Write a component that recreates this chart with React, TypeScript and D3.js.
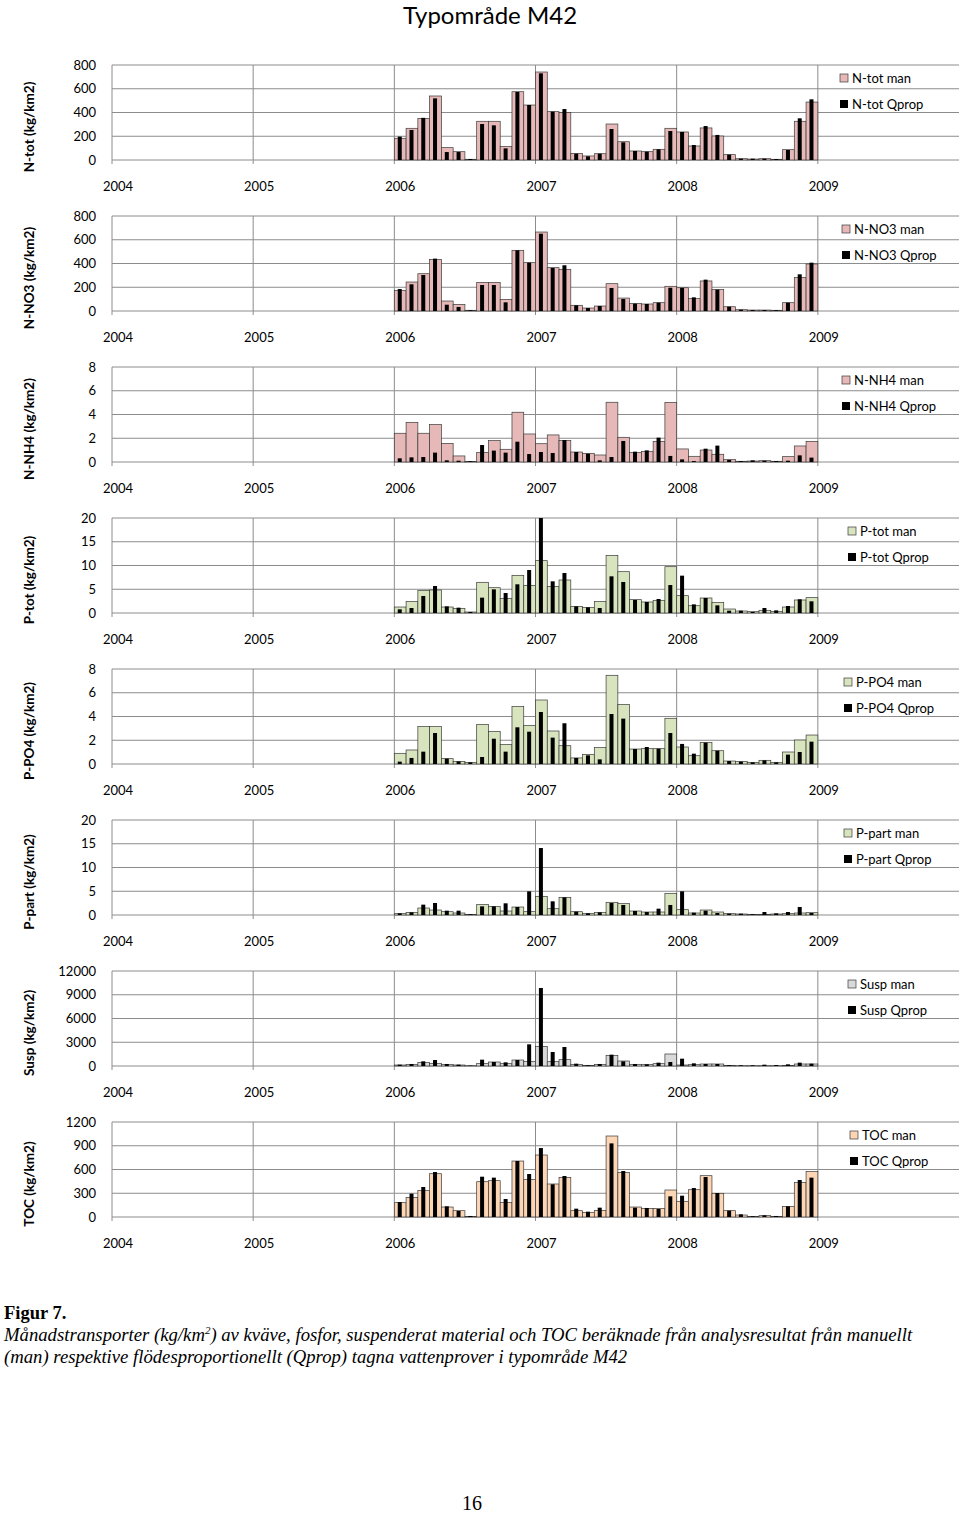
import React from "react";
import * as d3 from "d3";

// Months: Jan 2006 .. Dec 2008 (36 monthly values)
const months: string[] = Array.from({ length: 36 }, (_, i) => `${2006 + Math.floor(i / 12)}-${String((i % 12) + 1).padStart(2, "0")}`);
const years = [2004, 2005, 2006, 2007, 2008, 2009];

const ntotMan = [183, 267, 350, 539, 104, 70, 6, 326, 326, 115, 575, 463, 741, 407, 399, 56, 34, 53, 303, 154, 76, 70, 90, 267, 236, 118, 270, 202, 45, 11, 8, 11, 6, 87, 326, 488];
const ntotQ = [197, 253, 355, 519, 67, 67, 8, 303, 292, 98, 573, 463, 730, 407, 429, 53, 31, 53, 261, 149, 76, 70, 90, 244, 236, 126, 286, 211, 45, 11, 11, 11, 8, 84, 351, 511];
const no3Man = [174, 244, 314, 435, 84, 56, 6, 241, 241, 98, 511, 407, 665, 365, 351, 48, 25, 42, 230, 109, 62, 59, 70, 208, 196, 104, 253, 180, 36, 11, 8, 8, 6, 70, 283, 396];
const no3Q = [185, 225, 303, 441, 53, 34, 6, 219, 219, 73, 511, 407, 651, 362, 385, 48, 25, 42, 194, 101, 62, 59, 70, 196, 194, 115, 264, 180, 36, 11, 8, 8, 6, 70, 309, 407];
const nh4Man = [2.42, 3.34, 2.42, 3.15, 1.57, 0.51, 0.03, 0.79, 1.8, 1.07, 4.19, 2.36, 1.54, 2.28, 1.8, 0.84, 0.73, 0.59, 5.03, 2.08, 0.79, 0.9, 1.74, 5.0, 1.1, 0.48, 1.01, 0.65, 0.2, 0.06, 0.08, 0.11, 0.06, 0.45, 1.35, 1.74];
const nh4Q = [0.31, 0.39, 0.42, 0.79, 0.14, 0.11, 0.06, 1.43, 0.96, 0.79, 1.71, 0.67, 0.84, 0.76, 1.85, 0.84, 0.7, 0.14, 0.42, 1.77, 0.87, 0.98, 2.05, 0.51, 0.22, 0.08, 1.12, 1.38, 0.17, 0.08, 0.14, 0.11, 0.08, 0.11, 0.56, 0.37];
const ptotMan = [1.26, 2.39, 4.77, 4.84, 1.26, 0.98, 0.21, 6.46, 5.33, 3.09, 7.93, 5.82, 11.02, 5.61, 6.95, 1.4, 1.19, 2.39, 12.14, 8.7, 2.81, 2.32, 2.67, 9.75, 3.65, 1.54, 3.16, 2.18, 0.84, 0.42, 0.28, 0.56, 0.35, 1.26, 2.74, 3.23];
const ptotQ = [0.77, 1.05, 3.58, 5.68, 1.4, 1.12, 0.21, 3.23, 4.98, 4.21, 6.04, 9.05, 20, 6.67, 8.42, 1.4, 1.19, 1.05, 7.72, 6.53, 2.74, 2.32, 2.95, 5.89, 7.86, 1.82, 3.16, 1.61, 0.49, 0.49, 0.21, 1.05, 0.56, 1.47, 2.88, 2.46];
const po4Man = [0.9, 1.18, 3.15, 3.15, 0.45, 0.22, 0.14, 3.34, 2.75, 1.63, 4.83, 3.23, 5.39, 2.78, 1.54, 0.51, 0.79, 1.38, 7.47, 5.0, 1.26, 1.29, 1.29, 3.85, 1.43, 0.7, 1.8, 1.12, 0.25, 0.2, 0.14, 0.31, 0.14, 1.01, 2.02, 2.44];
const po4Q = [0.2, 0.51, 1.04, 2.61, 0.45, 0.22, 0.14, 0.59, 2.13, 1.04, 3.09, 2.72, 4.38, 2.22, 3.43, 0.51, 0.73, 0.39, 4.21, 3.82, 1.26, 1.43, 1.29, 2.61, 1.69, 0.87, 1.8, 1.12, 0.25, 0.2, 0.14, 0.31, 0.14, 0.79, 1.01, 1.88];
const ppartMan = [0.28, 0.56, 1.47, 1.05, 0.7, 0.42, 0.14, 2.18, 1.82, 0.84, 1.68, 0.7, 3.93, 1.33, 3.72, 0.7, 0.35, 0.56, 2.67, 2.39, 0.84, 0.63, 0.63, 4.56, 1.12, 0.42, 1.05, 0.63, 0.28, 0.21, 0.14, 0.14, 0.21, 0.28, 0.42, 0.49];
const ppartQ = [0.35, 0.56, 2.18, 2.53, 0.91, 0.91, 0.14, 1.82, 1.82, 2.46, 1.68, 4.98, 14.1, 2.88, 3.72, 0.7, 0.35, 0.56, 2.53, 2.11, 0.84, 0.63, 1.33, 2.11, 4.98, 0.49, 0.91, 0.42, 0.28, 0.28, 0.14, 0.63, 0.35, 0.63, 1.68, 0.42];
const suspMan = [126, 210, 463, 337, 210, 126, 42, 337, 505, 295, 758, 589, 2484, 547, 800, 210, 84, 210, 1347, 631, 210, 210, 295, 1516, 126, 168, 253, 253, 84, 42, 42, 42, 42, 84, 253, 253];
const suspQ = [168, 253, 589, 758, 253, 168, 42, 800, 505, 463, 758, 2736, 9851, 1768, 2400, 295, 84, 253, 1431, 589, 253, 210, 421, 505, 926, 337, 253, 253, 84, 84, 84, 168, 126, 210, 421, 295];
const tocMan = [181, 248, 333, 547, 126, 80, 8, 446, 459, 185, 707, 472, 783, 417, 501, 80, 59, 84, 1023, 564, 126, 109, 109, 341, 198, 345, 522, 299, 80, 25, 8, 17, 8, 131, 434, 573];
const tocQ = [189, 295, 379, 568, 135, 76, 13, 509, 497, 227, 707, 543, 871, 413, 518, 105, 67, 118, 930, 581, 118, 114, 101, 261, 269, 366, 505, 303, 80, 34, 8, 21, 13, 135, 467, 497];

const ticksNtot = [0, 200, 400, 600, 800];
const ticksNH4 = [0, 2, 4, 6, 8];
const ticksP = [0, 5, 10, 15, 20];
const ticksSusp = [0, 3000, 6000, 9000, 12000];
const ticksToc = [0, 300, 600, 900, 1200];

const panels = [
  { title: "N-tot (kg/km2)", man: ntotMan, q: ntotQ, ticks: ticksNtot, manLabel: "N-tot man", qLabel: "N-tot Qprop", color: "#E6B9B8", legX: 843 },
  { title: "N-NO3 (kg/km2)", man: no3Man, q: no3Q, ticks: ticksNtot, manLabel: "N-NO3 man", qLabel: "N-NO3 Qprop", color: "#E6B9B8", legX: 845 },
  { title: "N-NH4 (kg/km2)", man: nh4Man, q: nh4Q, ticks: ticksNH4, manLabel: "N-NH4 man", qLabel: "N-NH4 Qprop", color: "#E6B9B8", legX: 845 },
  { title: "P-tot (kg/km2)", man: ptotMan, q: ptotQ, ticks: ticksP, manLabel: "P-tot man", qLabel: "P-tot Qprop", color: "#D7E4BD", legX: 851 },
  { title: "P-PO4 (kg/km2)", man: po4Man, q: po4Q, ticks: ticksNH4, manLabel: "P-PO4 man", qLabel: "P-PO4 Qprop", color: "#D7E4BD", legX: 847 },
  { title: "P-part (kg/km2)", man: ppartMan, q: ppartQ, ticks: ticksP, manLabel: "P-part man", qLabel: "P-part Qprop", color: "#D7E4BD", legX: 847 },
  { title: "Susp (kg/km2)", man: suspMan, q: suspQ, ticks: ticksSusp, manLabel: "Susp man", qLabel: "Susp Qprop", color: "#D9D9D9", legX: 851 },
  { title: "TOC (kg/km2)", man: tocMan, q: tocQ, ticks: ticksToc, manLabel: "TOC man", qLabel: "TOC Qprop", color: "#FCD5B5", legX: 853 },
];

const FONT = "Lato, 'Open Sans', sans-serif";
const SERIF = "'Liberation Serif', 'Times New Roman', serif";
const LEFT = 112;
const RIGHT = 959;
const TOP0 = 65;
const PANEL_STEP = 151;
const PH = 95;

const x = d3.scaleLinear().domain([0, 72]).range([LEFT, RIGHT]); // months since Jan 2004
const monthIndex = (m: string) => (+m.slice(0, 4) - 2004) * 12 + (+m.slice(5, 7) - 1);

function Panel({ p, idx }: { p: typeof panels[number]; idx: number }) {
  const top = TOP0 + idx * PANEL_STEP;
  const bottom = top + PH;
  const maxV = p.ticks[p.ticks.length - 1];
  const y = d3.scaleLinear().domain([0, maxV]).range([bottom, top]);
  const slot = x(1) - x(0);
  const qW = 4;
  return (
    <g>
      {p.ticks.map((t) => (
        <g key={t}>
          <line x1={LEFT} x2={RIGHT} y1={y(t)} y2={y(t)} stroke="#8c8c8c" strokeWidth={1} />
          <text x={96} y={y(t)} dy="0.35em" textAnchor="end" fontSize={13} fontFamily={FONT} fill="#000">{t}</text>
        </g>
      ))}
      {years.map((yr) => {
        const xx = x((yr - 2004) * 12);
        return (
          <g key={yr}>
            <line x1={xx} x2={xx} y1={top} y2={bottom + 4} stroke="#8c8c8c" strokeWidth={1} />
            <text x={xx + 6} y={bottom + 31} textAnchor="middle" fontSize={13} fontFamily={FONT}>{yr}</text>
          </g>
        );
      })}
      {months.map((m, i) => {
        const mi = monthIndex(m);
        const x0 = x(mi);
        const vm = Math.min(p.man[i], maxV);
        const vq = Math.min(p.q[i], maxV);
        return (
          <g key={m}>
            <rect x={x0} y={y(vm)} width={slot} height={bottom - y(vm)} fill={p.color} stroke="#3a3a3a" strokeWidth={0.7} />
            <rect x={x0 + slot * 0.46 - qW / 2} y={y(vq)} width={qW} height={bottom - y(vq)} fill="#000" />
          </g>
        );
      })}
      <text transform={`translate(34,${top + 62}) rotate(-90)`} textAnchor="middle" fontSize={13.5} fontWeight="bold" fontFamily={FONT}>{p.title}</text>
      <rect x={p.legX - 3} y={top + 9} width={8} height={8} fill={p.color} stroke="#3a3a3a" strokeWidth={0.7} />
      <text x={p.legX + 9} y={top + 13} dy="0.35em" fontSize={13} fontFamily={FONT}>{p.manLabel}</text>
      <rect x={p.legX - 3} y={top + 35} width={8} height={8} fill="#000" />
      <text x={p.legX + 9} y={top + 39} dy="0.35em" fontSize={13} fontFamily={FONT}>{p.qLabel}</text>
    </g>
  );
}

export default function App() {
  return (
    <svg width={960} height={1515} style={{ position: "absolute", left: 0, top: 0, background: "#fff" }}>
      <rect width={960} height={1515} fill="#fff" />
      <text x={490} y={24} textAnchor="middle" fontSize={24} fontFamily={FONT}>Typområde M42</text>
      {panels.map((p, i) => (
        <Panel key={p.title} p={p} idx={i} />
      ))}
      <text x={4} y={1319} fontSize={18.5} fontWeight="bold" fontFamily={SERIF}>Figur 7.</text>
      <text x={4} y={1341} fontSize={18.7} fontStyle="italic" fontFamily={SERIF}>
        Månadstransporter (kg/km<tspan dy={-7} fontSize={11}>2</tspan><tspan dy={7}>) av kväve, fosfor, suspenderat material och TOC beräknade från analysresultat från manuellt</tspan>
      </text>
      <text x={4} y={1363} fontSize={18.7} fontStyle="italic" fontFamily={SERIF}>(man) respektive flödesproportionellt (Qprop) tagna vattenprover i typområde M42</text>
      <text x={472} y={1510} textAnchor="middle" fontSize={20} fontFamily={SERIF}>16</text>
    </svg>
  );
}
